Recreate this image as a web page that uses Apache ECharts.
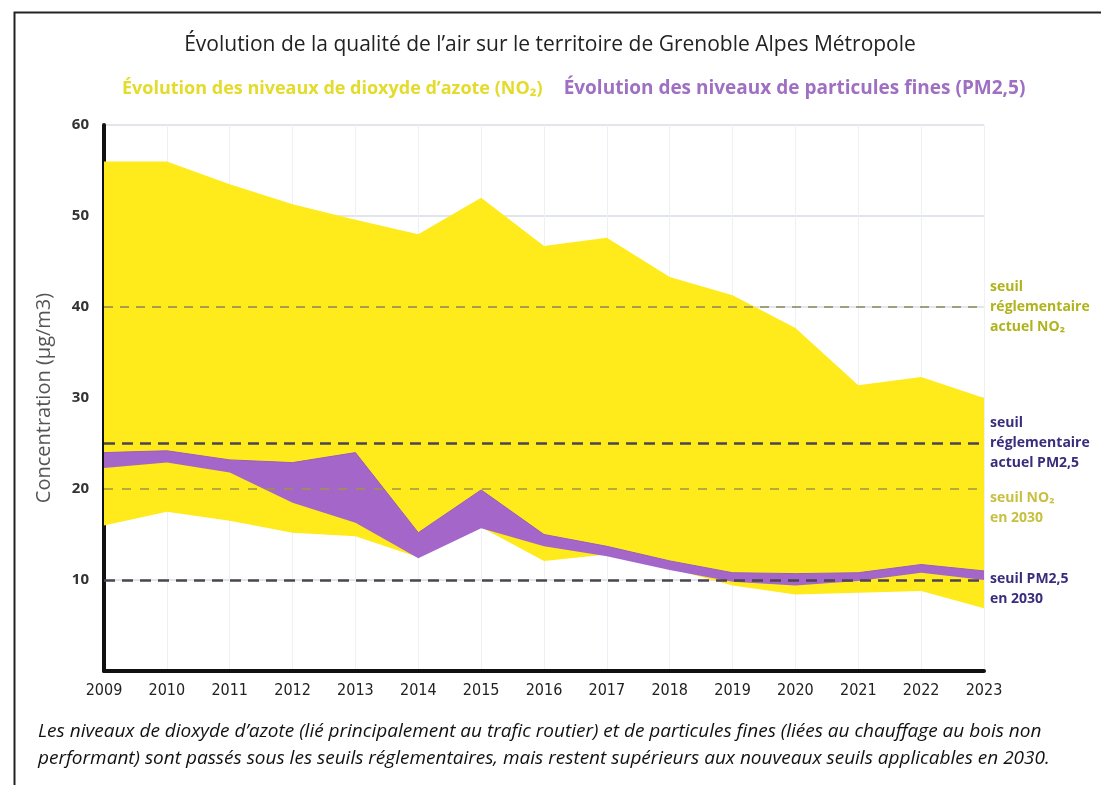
<!DOCTYPE html>
<html>
<head>
<meta charset="utf-8">
<script src="https://cdn.jsdelivr.net/npm/echarts@6/dist/echarts.min.js"></script>
<style>
  html, body { margin: 0; padding: 0; background: #ffffff; }
  #chart { width: 1101px; height: 785px; }
</style>
</head>
<body>
<div id="chart"></div>
<script>
// ---- Data ----
const years = ['2009','2010','2011','2012','2013','2014','2015','2016','2017','2018','2019','2020','2021','2022','2023'];
const no2Max = [56, 56, 53.5, 51.3, 49.6, 48, 52, 46.7, 47.6, 43.3, 41.3, 37.7, 31.4, 32.3, 30];
const no2Min = [16, 17.5, 16.5, 15.2, 14.8, 12.5, 15.8, 12.1, 12.8, 11.3, 9.4, 8.4, 8.6, 8.8, 6.9];
const pm25Max = [24, 24.2, 23.2, 22.9, 24, 15.2, 19.9, 15, 13.7, 12.1, 10.8, 10.7, 10.8, 11.7, 11];
const pm25Min = [22.3, 22.9, 21.8, 18.5, 16.3, 12.4, 15.7, 13.7, 12.6, 11.1, 9.8, 9.4, 9.9, 10.8, 10];
const yTicks = [0, 60, 10];
const thresholds = {
  no2Now: 40,
  pmNow: 25,
  no2In2030: 20,
  pmIn2030: 10
};
const no2Name = 'Évolution des niveaux de dioxyde d\u2019azote (NO₂)';
const pmName = 'Évolution des niveaux de particules fines (PM2,5)';

const no2Band = no2Max.map((v, i) => +(v - no2Min[i]).toFixed(2));
const pmBand = pm25Max.map((v, i) => +(v - pm25Min[i]).toFixed(2));

const YELLOW = '#ffea1c';
const PURPLE = '#a466c8';
const NARROW = "'Liberation Sans Narrow', 'DejaVu Sans Condensed', 'Open Sans', sans-serif";

const chart = echarts.init(document.getElementById('chart'), null, { renderer: 'canvas' });

const hidden = { opacity: 0, width: 0 };

chart.setOption({
  animation: false,
  backgroundColor: '#ffffff',
  title: {
    text: 'Évolution de la qualité de l\u2019air sur le territoire de Grenoble Alpes Métropole',
    left: 545, textAlign: 'center', top: 30,
    textStyle: { fontFamily: "'Open Sans', sans-serif", fontSize: 21, fontWeight: 'normal', color: '#222' }
  },
  legend: {
    left: 112, top: 74,
    icon: 'none', itemWidth: 0, itemHeight: 0, itemGap: 16,
    selectedMode: false,
    textStyle: { fontFamily: "'Open Sans', sans-serif", fontSize: 18, fontWeight: 'bold' },
    data: [
      { name: no2Name, textStyle: { color: '#e3dc2c', fontSize: 18 } },
      { name: pmName, textStyle: { color: '#9f6fc2', fontSize: 19 } }
    ]
  },
  grid: { left: 104, right: 117, top: 125, bottom: 114, containLabel: false },
  xAxis: {
    type: 'category', data: years, boundaryGap: false,
    axisLine: { show: true, onZero: false, lineStyle: { color: '#111', width: 4 } },
    axisTick: { show: false },
    axisLabel: { color: '#222', fontSize: 16, margin: 12, fontFamily: NARROW },
    splitLine: { show: true, lineStyle: { color: '#eef0f5', width: 1 } }
  },
  yAxis: {
    type: 'value', min: yTicks[0], max: yTicks[1], interval: yTicks[2],
    name: 'Concentration (µg/m3)', nameLocation: 'middle', nameGap: 50,
    nameTextStyle: { color: '#555', fontSize: 20, fontFamily: "'Open Sans', sans-serif" },
    axisLine: { show: true, lineStyle: { color: '#111', width: 4 } },
    axisTick: { show: false },
    axisLabel: { color: '#333', fontSize: 15, fontWeight: 'bold', margin: 15, fontFamily: "'Open Sans', sans-serif",
      formatter: v => v === 0 ? '' : v },
    splitLine: { show: true, lineStyle: { color: '#d9dce6', width: 1.5 } }
  },
  series: [
    { name: 'no2-base', type: 'line', stack: 'no2', data: no2Min, symbol: 'none', lineStyle: hidden, silent: true, z: 2 },
    { name: no2Name, type: 'line', stack: 'no2', data: no2Band, symbol: 'none', lineStyle: hidden,
      areaStyle: { color: YELLOW, opacity: 1 }, itemStyle: { color: YELLOW }, z: 2 },
    { name: 'pm-base', type: 'line', stack: 'pm', data: pm25Min, symbol: 'none', lineStyle: hidden, silent: true, z: 3 },
    { name: pmName, type: 'line', stack: 'pm', data: pmBand, symbol: 'none',
      lineStyle: { color: '#9a5cbf', width: 1 },
      areaStyle: { color: PURPLE, opacity: 1 }, itemStyle: { color: PURPLE }, z: 3 },
    { name: 'seuils', type: 'line', data: [], z: 10,
      markLine: {
        silent: true, symbol: ['none', 'none'],
        label: { position: 'end', distance: 6, fontSize: 14, fontWeight: 'bold', lineHeight: 20, align: 'left',
                 fontFamily: "'Open Sans', sans-serif" },
        data: [
          { yAxis: thresholds.no2Now,
            lineStyle: { color: '#8a8756', width: 1.5, type: [9, 7] },
            label: { formatter: 'seuil\nréglementaire\nactuel NO₂', color: '#b0b31c' } },
          { yAxis: thresholds.pmNow,
            lineStyle: { color: '#4c4450', width: 2.5, type: [11, 7] },
            label: { formatter: 'seuil\nréglementaire\nactuel PM2,5', color: '#3a2d7c' } },
          { yAxis: thresholds.no2In2030,
            lineStyle: { color: '#9d9643', width: 1.5, type: [9, 9] },
            label: { formatter: 'seuil NO₂\nen 2030', color: '#c8c040', offset: [0, 19] } },
          { yAxis: thresholds.pmIn2030,
            lineStyle: { color: '#4c4450', width: 2.5, type: [11, 7] },
            label: { formatter: 'seuil PM2,5\nen 2030', color: '#3a2d7c', offset: [0, 9] } }
        ]
      }
    }
  ],
  graphic: [
    { type: 'rect', left: 12, top: 10, z: 100, silent: true,
      shape: { width: 1200, height: 900 },
      style: { fill: 'none', stroke: '#222', lineWidth: 2 } },
    { type: 'text', left: 38, top: 722, silent: true,
      style: { text: 'Les niveaux de dioxyde d\u2019azote (lié principalement au trafic routier) et de particules fines (liées au chauffage au bois non',
               fontFamily: "'Open Sans', sans-serif", fontStyle: 'italic', fontSize: 19, fill: '#111' } },
    { type: 'text', left: 38, top: 749, silent: true,
      style: { text: 'performant) sont passés sous les seuils réglementaires, mais restent supérieurs aux nouveaux seuils applicables en 2030.',
               fontFamily: "'Open Sans', sans-serif", fontStyle: 'italic', fontSize: 19, fill: '#111' } }
  ]
});
</script>
</body>
</html>
